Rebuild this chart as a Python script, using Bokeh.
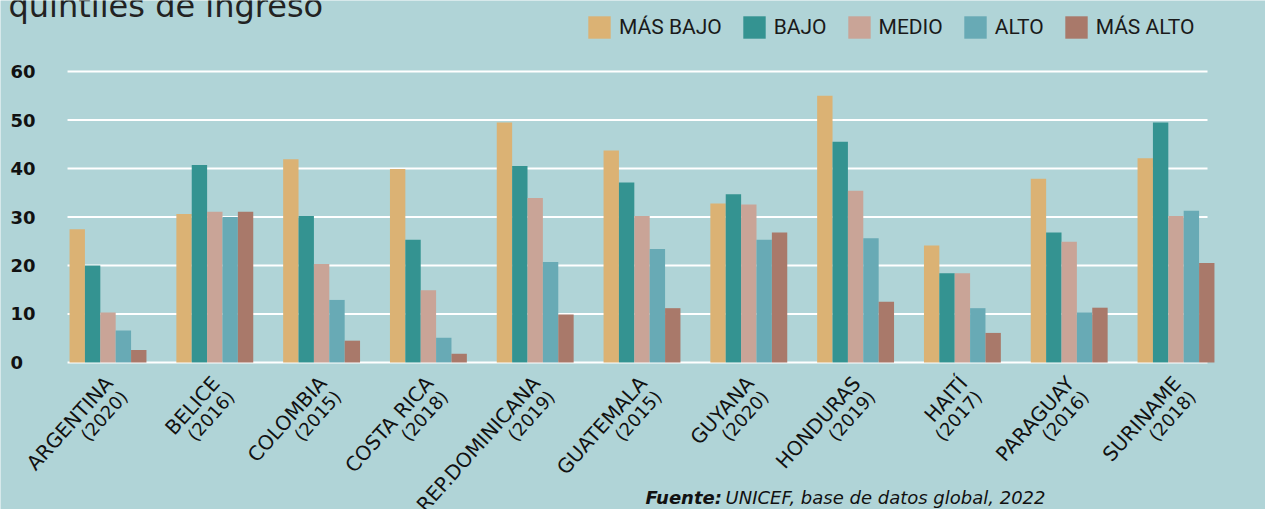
from bokeh.plotting import figure
from bokeh.models import (ColumnDataSource, Legend, LegendItem, Range1d, Label,
                          LabelSet)
from bokeh.transform import dodge
from bokeh.core.properties import value
from bokeh.embed import file_html
from bokeh.resources import INLINE

countries = ["ARGENTINA", "BELICE", "COLOMBIA", "COSTA RICA", "REP.DOMINICANA",
             "GUATEMALA", "GUYANA", "HONDURAS", "HAITÍ", "PARAGUAY", "SURINAME"]
years = ["2020", "2016", "2015", "2018", "2019", "2015", "2020", "2019", "2017",
         "2016", "2018"]

series_names = ["MÁS BAJO", "BAJO", "MEDIO", "ALTO", "MÁS ALTO"]
mas_bajo = [27.5, 30.6, 41.9, 39.9, 49.5, 43.7, 32.8, 55.0, 24.1, 37.9, 42.1]
bajo = [20.0, 40.7, 30.2, 25.3, 40.5, 37.1, 34.7, 45.5, 18.4, 26.8, 49.5]
medio = [10.3, 31.1, 20.3, 14.9, 33.9, 30.2, 32.6, 35.4, 18.4, 24.9, 30.2]
alto = [6.6, 30.0, 12.9, 5.1, 20.7, 23.4, 25.3, 25.6, 11.2, 10.3, 31.3]
mas_alto = [2.6, 31.1, 4.5, 1.8, 9.9, 11.2, 26.8, 12.5, 6.1, 11.3, 20.5]

y_ticks = [0, 10, 20, 30, 40, 50, 60]

title_text = "quintiles de ingreso"
source_bold = "Fuente:"
source_text = "UNICEF, base de datos global, 2022"

colors = ["#DBB274", "#349391", "#C9A497", "#68AAB5", "#A9796A"]
BG = "#B0D4D7"
INK = "#111111"
FONT = value("DejaVu Sans")

xpos = list(range(len(countries)))
source = ColumnDataSource(dict(x=xpos, s0=mas_bajo, s1=bajo, s2=medio,
                               s3=alto, s4=mas_alto))

# the plotting frame covers the whole canvas so nothing gets clipped
p = figure(width=1265, height=509, output_backend="svg", toolbar_location=None,
           x_axis_type=None, y_axis_type=None,
           x_range=Range1d(-1.0066, 10.838), y_range=Range1d(-30.31, 74.64),
           min_border=0)
p.background_fill_color = BG
p.border_fill_color = BG
p.outline_line_color = None
p.xgrid.visible = False
p.ygrid.visible = False

# horizontal gridlines (shorter than the frame, as in the reference)
gsrc = ColumnDataSource(dict(y=y_ticks, x0=[-0.379] * len(y_ticks),
                             x1=[10.295] * len(y_ticks)))
p.segment(x0="x0", x1="x1", y0="y", y1="y", source=gsrc,
          line_color="white", line_width=2)

bw = 0.144
offsets = [-2 * bw, -bw, 0, bw, 2 * bw]
renderers = []
for i, name in enumerate(series_names):
    r = p.vbar(x=dodge("x", offsets[i], range=p.x_range), top="s%d" % i,
               width=bw, bottom=0, source=source, fill_color=colors[i],
               line_color=None)
    renderers.append(r)

legend = Legend(items=[LegendItem(label=n, renderers=[r])
                       for n, r in zip(series_names, renderers)],
                orientation="horizontal", location=(585, 468),
                glyph_width=28, glyph_height=28, label_standoff=6,
                spacing=18, padding=0, margin=0,
                background_fill_alpha=0, border_line_color=None,
                label_text_font="Roboto", label_text_font_size="21px",
                label_text_color="#1a1a1a", label_height=28)
p.add_layout(legend, "center")

# y tick labels (left aligned, bold)
ysrc = ColumnDataSource(dict(y=y_ticks, t=[str(v) for v in y_ticks]))
p.add_layout(LabelSet(x=10, y="y", text="t", source=ysrc, x_units="screen",
                      text_align="left", text_baseline="middle",
                      text_font=FONT, text_font_style="bold",
                      text_font_size="18px", text_color=INK))

# x tick labels: rotated country name with the year on a second line
csrc = ColumnDataSource(dict(x=xpos, t=countries))
ysrc2 = ColumnDataSource(dict(x=xpos, t=["(%s)" % y for y in years]))
p.add_layout(LabelSet(x="x", y=130, text="t", source=csrc, y_units="screen",
                      x_offset=1, angle=0.84, text_align="right",
                      text_baseline="middle", text_font=FONT,
                      text_font_size="20px", text_color=INK))
p.add_layout(LabelSet(x="x", y=116, text="t", source=ysrc2, y_units="screen",
                      x_offset=16, angle=0.84, text_align="right",
                      text_baseline="middle", text_font=FONT,
                      text_font_size="18px", text_color=INK))

# title (cut by the top edge, as in the reference)
p.add_layout(Label(x=8, y=504, x_units="screen", y_units="screen",
                   text=title_text, text_font="DejaVu Sans",
                   text_font_size="32px", text_baseline="alphabetic",
                   text_color="#222222"))

# source note
p.add_layout(Label(x=645, y=2, x_units="screen", y_units="screen",
                   text=source_bold, text_font="DejaVu Sans",
                   text_font_style="bold italic", text_font_size="18px",
                   text_baseline="bottom", text_color=INK))
p.add_layout(Label(x=725, y=2, x_units="screen", y_units="screen",
                   text=source_text, text_font="DejaVu Sans",
                   text_font_style="italic", text_font_size="18px",
                   text_baseline="bottom", text_color=INK))

open("out.html", "w").write(file_html(p, INLINE))
